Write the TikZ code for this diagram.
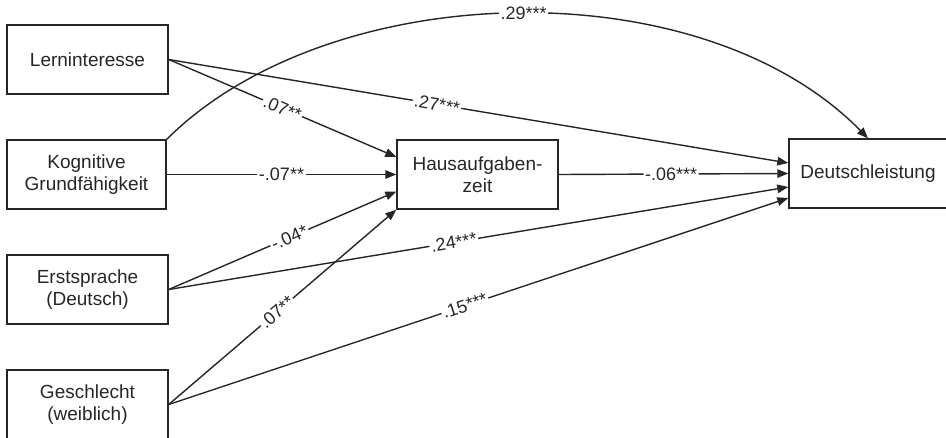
\documentclass[tikz,border=0pt]{standalone}
\usepackage{fontspec}
\setmainfont{Liberation Sans}
\usetikzlibrary{arrows.meta,calc}
\begin{document}
\begin{tikzpicture}[x=1pt,y=-1pt,
  box/.style={draw=black!85, line width=1.4pt, minimum height=69pt, inner sep=0pt, align=center, font=\fontsize{19}{21.5}\selectfont, text=black!85},
  conn/.style={draw=black!85, line width=1.4pt, -{Triangle[length=11pt,width=8.5pt]}},
  lab/.style={fill=white, inner sep=1.5pt, font=\fontsize{18}{18}\selectfont, text=black!85, sloped}]
\useasboundingbox (0,0) rectangle (946,437);
\node[box, minimum width=161pt] (lern) at (87.5,59.5) {Lerninteresse};
\node[box, minimum width=159pt] (kog) at (86.5,174.5) {Kognitive\\Grundfähigkeit};
\node[box, minimum width=161pt] (erst) at (87.5,289.5) {Erstsprache\\(Deutsch)};
\node[box, minimum width=161pt] (ges) at (87.5,404.5) {Geschlecht\\(weiblich)};
\node[box, minimum width=161pt] (haus) at (477.5,174.5) {Hausaufgaben-\\zeit};
\node[box, minimum width=158pt] (deu) at (868,173.5) {Deutschleistung};

\coordinate (h1) at ([yshift=17.5pt]haus.west);
\coordinate (h3) at ([yshift=-17pt]haus.west);
\coordinate (d1) at ([yshift=10.5pt]deu.west);
\coordinate (d3) at ([yshift=-13.5pt]deu.west);
\coordinate (d4) at ([yshift=-24.5pt]deu.west);

\draw[conn] (lern.east) -- node[lab, pos=0.50] {.07**} (h1);
\draw[conn] (lern.east) -- node[lab, pos=0.433] {.27***} (d1);
\draw[conn] (kog.east) -- node[lab, pos=0.50] {-.07**} (haus.west);
\draw[conn] (erst.east) -- node[lab, pos=0.53] {-.04*} (h3);
\draw[conn] (erst.east) -- node[lab, pos=0.46] {.24***} (d3);
\draw[conn] (ges.east) -- node[lab, pos=0.475] {.07**} (haus.south west);
\draw[conn] (ges.east) -- node[lab, pos=0.478] {.15***} (d4);
\draw[conn] (haus.east) -- node[lab, pos=0.49] {-.06***} (deu.west);
\draw[conn] (kog.north east) .. controls (330,-23) and (700,-33) .. node[lab, pos=0.51, sloped=false] {.29***} (deu.north);
\end{tikzpicture}
\end{document}
